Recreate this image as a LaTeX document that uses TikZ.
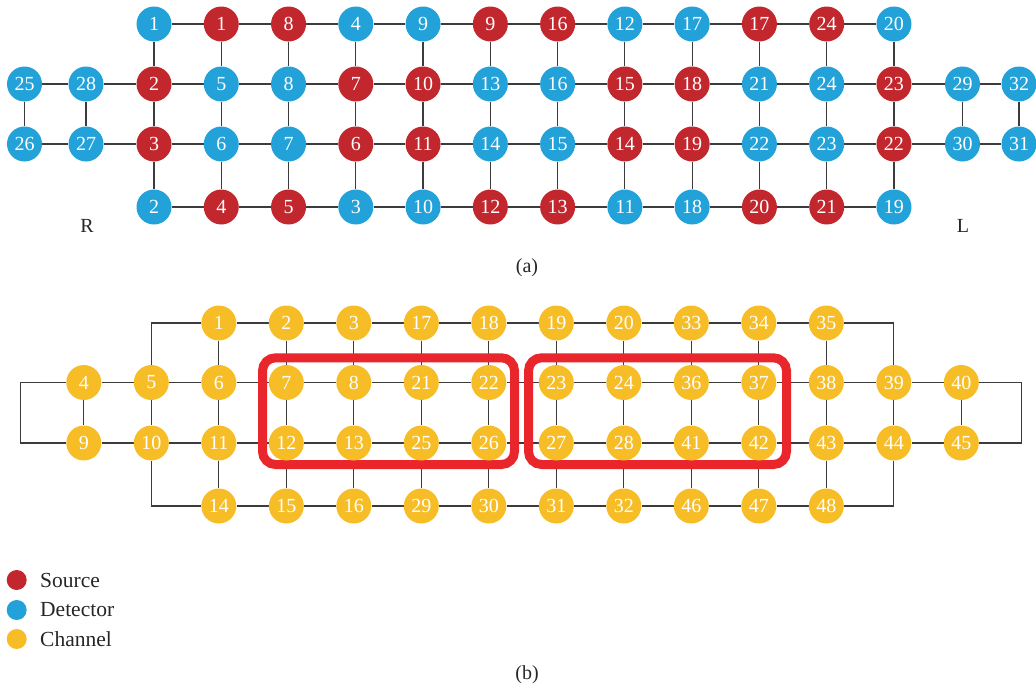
\documentclass[tikz,border=0pt]{standalone}
\usepackage{fontspec}
\setmainfont{Liberation Serif}
\definecolor{src}{HTML}{C1272D}
\definecolor{det}{HTML}{23A1D9}
\definecolor{chn}{HTML}{F7BD27}
\definecolor{frm}{HTML}{E8262C}
\definecolor{ln}{HTML}{3C3C3C}
\pgfdeclarelayer{bg}
\pgfdeclarelayer{mid}
\pgfsetlayers{bg,mid,main}
\tikzset{
  nd/.style={circle, minimum size=35pt, inner sep=0pt, text=white, font=\fontsize{20}{20}\selectfont},
  S/.style={nd, fill=src},
  D/.style={nd, fill=det},
  C/.style={nd, fill=chn},
  edge/.style={draw=ln, line width=1.2pt},
  frame/.style={draw=frm, line width=9pt, rounded corners=13pt},
  lab/.style={font=\fontsize{20}{20}\selectfont, text=black!85},
  legt/.style={font=\fontsize{21.5}{21.5}\selectfont, text=black!85, anchor=west, inner sep=0pt},
  leg/.style={circle, minimum size=20pt, inner sep=0pt}
}
\begin{document}
\begin{tikzpicture}[x=1pt,y=-1pt]
\useasboundingbox (0,0) rectangle (1036,688);
% ---------- (a) ----------
\foreach \lab/\typ [count=\i from 0] in {1/D,1/S,8/S,4/D,9/D,9/S,16/S,12/D,17/D,17/S,24/S,20/D}
  \node[\typ] (a1-\i) at ({154+67.27*\i},24) {\lab};
\foreach \lab/\typ [count=\i from 0] in {2/S,5/D,8/D,7/S,10/S,13/D,16/D,15/S,18/S,21/D,24/D,23/S}
  \node[\typ] (a2-\i) at ({154+67.27*\i},84) {\lab};
\foreach \lab/\typ [count=\i from 0] in {3/S,6/D,7/D,6/S,11/S,14/D,15/D,14/S,19/S,22/D,23/D,22/S}
  \node[\typ] (a3-\i) at ({154+67.27*\i},144) {\lab};
\foreach \lab/\typ [count=\i from 0] in {2/D,4/S,5/S,3/D,10/D,12/S,13/S,11/D,18/D,20/S,21/S,19/D}
  \node[\typ] (a4-\i) at ({154+67.27*\i},207) {\lab};
\node[D] (a25) at (24.5,84) {25};
\node[D] (a28) at (86,84) {28};
\node[D] (a26) at (24.5,144) {26};
\node[D] (a27) at (86,144) {27};
\node[D] (a29) at (962.5,84) {29};
\node[D] (a32) at (1019,84) {32};
\node[D] (a30) at (962.5,144) {30};
\node[D] (a31) at (1019,144) {31};
\begin{pgfonlayer}{bg}
\foreach \r in {1,...,4}
  \foreach \i in {0,...,10} {
    \pgfmathtruncatemacro{\j}{\i+1}
    \draw[edge] (a\r-\i) -- (a\r-\j);
  }
\foreach \i in {0,...,11} {
  \draw[edge] (a1-\i) -- (a2-\i);
  \draw[edge] (a2-\i) -- (a3-\i);
  \draw[edge] (a3-\i) -- (a4-\i);
}
\draw[edge] (a25) -- (a28);
\draw[edge] (a28) -- (a2-0);
\draw[edge] (a26) -- (a27);
\draw[edge] (a27) -- (a3-0);
\draw[edge] (a25) -- (a26);
\draw[edge] (a28) -- (a27);
\draw[edge] (a2-11) -- (a29);
\draw[edge] (a29) -- (a32);
\draw[edge] (a3-11) -- (a30);
\draw[edge] (a30) -- (a31);
\draw[edge] (a29) -- (a30);
\draw[edge] (a32) -- (a31);
\end{pgfonlayer}
\node[lab] (lR) at (87,226) {R};
\node[lab] (lL) at (963,226) {L};
\node[lab] (capa) at (527,268) {(a)};
% ---------- (b) ----------
\foreach \lab [count=\k from 2] in {1,2,3,17,18,19,20,33,34,35}
  \node[C] (b1-\k) at ({83.8+67.5*\k},323) {\lab};
\foreach \lab [count=\k from 0] in {4,5,6,7,8,21,22,23,24,36,37,38,39,40}
  \node[C] (b2-\k) at ({83.8+67.5*\k},382.5) {\lab};
\foreach \lab [count=\k from 0] in {9,10,11,12,13,25,26,27,28,41,42,43,44,45}
  \node[C] (b3-\k) at ({83.8+67.5*\k},443) {\lab};
\foreach \lab [count=\k from 2] in {14,15,16,29,30,31,32,46,47,48}
  \node[C] (b4-\k) at ({83.8+67.5*\k},506) {\lab};
\coordinate (ol1) at (20.7,382.5);
\coordinate (ol2) at (20.7,443);
\coordinate (or1) at (1021.5,382.5);
\coordinate (or2) at (1021.5,443);
\begin{pgfonlayer}{bg}
\foreach \k in {2,...,10} {
  \pgfmathtruncatemacro{\m}{\k+1}
  \draw[edge] (b1-\k) -- (b1-\m);
  \draw[edge] (b4-\k) -- (b4-\m);
}
\foreach \k in {0,...,12} {
  \pgfmathtruncatemacro{\m}{\k+1}
  \draw[edge] (b2-\k) -- (b2-\m);
  \draw[edge] (b3-\k) -- (b3-\m);
}
\foreach \k in {2,...,11} {
  \draw[edge] (b1-\k) -- (b2-\k);
  \draw[edge] (b3-\k) -- (b4-\k);
}
\foreach \k in {0,...,13}
  \draw[edge] (b2-\k) -- (b3-\k);
\draw[edge] (b2-1) |- (b1-2);
\draw[edge] (b3-1) |- (b4-2);
\draw[edge] (b2-12) |- (b1-11);
\draw[edge] (b3-12) |- (b4-11);
\draw[edge] (b2-0) -- (ol1) -- (ol2) -- (b3-0);
\draw[edge] (b2-13) -- (or1) -- (or2) -- (b3-13);
\end{pgfonlayer}
\begin{pgfonlayer}{mid}
\draw[frame] (262.5,357.8) rectangle (514.5,464.5);
\draw[frame] (528.5,357.8) rectangle (786.5,464.5);
\end{pgfonlayer}
% legend
\node[leg, fill=src] (ls) at (16.7,580) {};
\node[leg, fill=det] (ld) at (16.7,610) {};
\node[leg, fill=chn] (lc) at (16.7,639) {};
\node[legt] (lst) at (40,580) {Source};
\node[legt] (ldt) at (40,610) {Detector};
\node[legt] (lct) at (40,639) {Channel};
\node[lab] (capb) at (527,675) {(b)};
\end{tikzpicture}
\end{document}
